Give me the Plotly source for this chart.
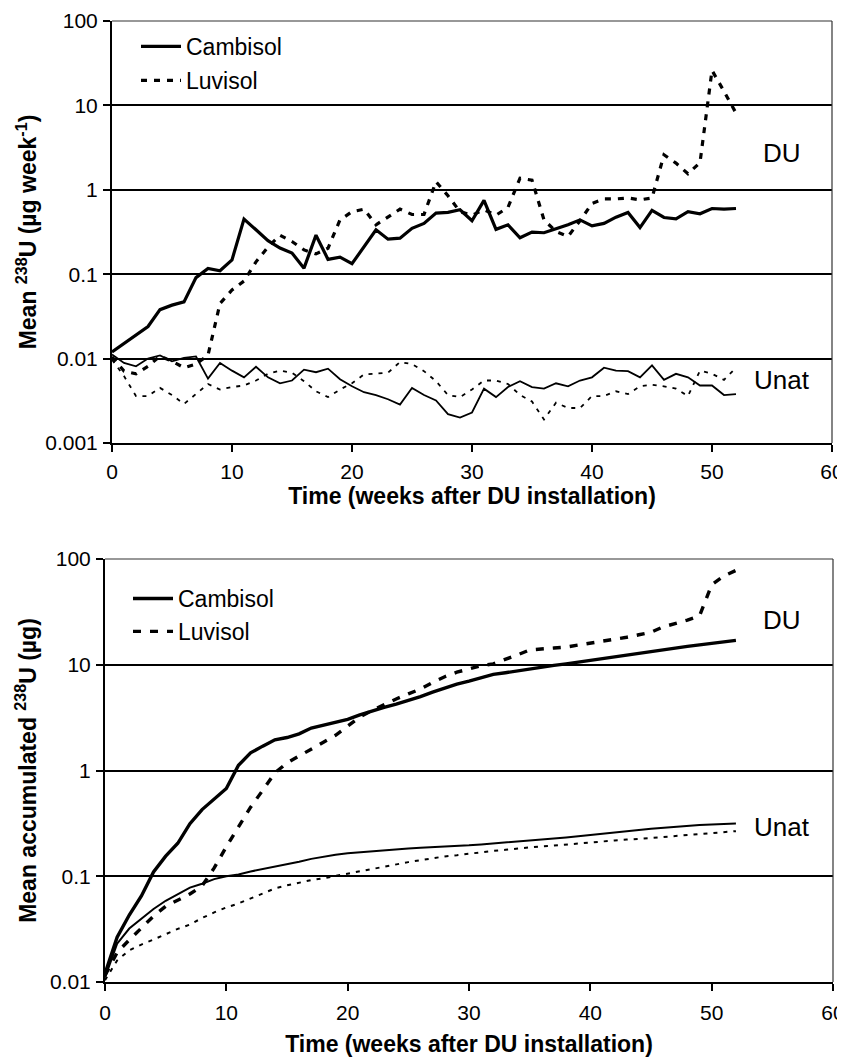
import plotly.graph_objects as go

weeks = list(range(53))

# Weekly mean 238U (ug/week)
cambisol_du_weekly = [0.012, 0.015, 0.019, 0.024, 0.038, 0.043, 0.047, 0.091, 0.117, 0.11, 0.148,
                      0.45, 0.336, 0.25, 0.204, 0.178, 0.118, 0.29, 0.15, 0.159, 0.133,
                      0.213, 0.336, 0.26, 0.267, 0.35, 0.40, 0.53, 0.54, 0.58, 0.43,
                      0.75, 0.34, 0.385, 0.27, 0.315, 0.31, 0.345, 0.385, 0.44, 0.374,
                      0.40, 0.474, 0.54, 0.357, 0.57, 0.47, 0.453, 0.55, 0.52, 0.60,
                      0.59, 0.60]
luvisol_du_weekly = [0.0105, 0.0071, 0.0066, 0.0081, 0.0107, 0.0093, 0.0078, 0.0086, 0.011, 0.045, 0.065,
                     0.083, 0.14, 0.21, 0.29, 0.244, 0.194, 0.174, 0.203, 0.44, 0.55,
                     0.59, 0.385, 0.48, 0.59, 0.51, 0.51, 1.25, 0.85, 0.55, 0.5,
                     0.58, 0.5, 0.62, 1.37, 1.3, 0.44, 0.32, 0.28, 0.43, 0.69,
                     0.78, 0.78, 0.8, 0.76, 0.8, 2.6, 2.07, 1.55, 2.1, 26.0,
                     14.7, 8.1]
cambisol_unat_weekly = [0.0112, 0.0089, 0.0081, 0.01, 0.0109, 0.0093, 0.0102, 0.0106, 0.0058, 0.0089, 0.0072,
                        0.006, 0.008, 0.006, 0.0051, 0.0055, 0.0074, 0.0069, 0.0076, 0.0057, 0.0047,
                        0.004, 0.0037, 0.0033, 0.00285, 0.0045, 0.0037, 0.0032, 0.0022, 0.002, 0.0023,
                        0.0044, 0.0035, 0.0046, 0.0054, 0.0046, 0.0044, 0.0051, 0.0047, 0.0055, 0.006,
                        0.0078, 0.0072, 0.0071, 0.006, 0.0083, 0.0056, 0.0066, 0.006, 0.0048, 0.0048,
                        0.0037, 0.0038]
luvisol_unat_weekly = [0.0097, 0.0062, 0.0036, 0.0036, 0.0045, 0.0037, 0.0029, 0.0038, 0.005, 0.0043, 0.0046,
                       0.0048, 0.0055, 0.0066, 0.0072, 0.0068, 0.0054, 0.0041, 0.0035, 0.0043, 0.0051,
                       0.0065, 0.0066, 0.0068, 0.0091, 0.0086, 0.0071, 0.0054, 0.0037, 0.0035, 0.0043,
                       0.0055, 0.0055, 0.005, 0.0037, 0.0031, 0.0019, 0.003, 0.0026, 0.0026, 0.0036,
                       0.0036, 0.0041, 0.0038, 0.0047, 0.0049, 0.0047, 0.0044, 0.0036, 0.0072, 0.0066,
                       0.0056, 0.0078]

# Mean accumulated 238U (ug)
cambisol_du_cum = [0.012, 0.0265, 0.043, 0.065, 0.11, 0.155, 0.205, 0.314, 0.427, 0.54, 0.675,
                   1.12, 1.47, 1.70, 1.95, 2.05, 2.22, 2.52, 2.69, 2.86, 3.05,
                   3.35, 3.67, 3.95, 4.25, 4.6, 5.0, 5.5, 6.0, 6.55, 7.0,
                   7.6, 8.1, 8.4, 8.77, 9.1, 9.5, 9.85, 10.2, 10.6, 11.0,
                   11.5, 12.0, 12.4, 12.9, 13.4, 13.9, 14.4, 14.9, 15.4, 16.0,
                   16.4, 17.0]
luvisol_du_cum = [0.0115, 0.019, 0.025, 0.032, 0.042, 0.052, 0.06, 0.068, 0.081, 0.12, 0.19,
                  0.29, 0.45, 0.65, 0.95, 1.18, 1.38, 1.58, 1.85, 2.15, 2.65,
                  3.2, 3.7, 4.2, 4.75, 5.3, 5.9, 6.8, 7.7, 8.5, 9.1,
                  9.8, 10.2, 11.2, 12.4, 13.8, 14.2, 14.4, 14.7, 15.3, 16.0,
                  16.7, 17.3, 18.2, 19.2, 20.3, 22.8, 24.3, 26.4, 29.0, 57.0,
                  69.0, 78.0]
cambisol_unat_cum = [0.011, 0.023, 0.032, 0.04, 0.049, 0.0586, 0.068, 0.078, 0.085, 0.094, 0.1,
                     0.104, 0.111, 0.117, 0.122, 0.128, 0.137, 0.146, 0.154, 0.160, 0.165,
                     0.169, 0.173, 0.175, 0.179, 0.183, 0.186, 0.188, 0.191, 0.193, 0.196,
                     0.2, 0.204, 0.209, 0.214, 0.219, 0.224, 0.228, 0.233, 0.239, 0.245,
                     0.252, 0.26, 0.267, 0.274, 0.282, 0.288, 0.295, 0.3, 0.305, 0.309,
                     0.312, 0.315]
luvisol_unat_cum = [0.0104, 0.016, 0.0199, 0.0226, 0.0252, 0.0285, 0.0318, 0.0349, 0.0403, 0.0455, 0.0507,
                    0.0553, 0.062, 0.069, 0.0766, 0.082, 0.0875, 0.092, 0.0957, 0.1007, 0.106,
                    0.111, 0.117, 0.124, 0.129, 0.136, 0.142, 0.148, 0.154, 0.158, 0.164,
                    0.169, 0.174, 0.178, 0.183, 0.188, 0.192, 0.195, 0.2, 0.204, 0.209,
                    0.214, 0.218, 0.222, 0.225, 0.23, 0.235, 0.24, 0.245, 0.25, 0.256,
                    0.26, 0.267]

x_ticks = [0, 10, 20, 30, 40, 50, 60]
y_ticks_top = [0.001, 0.01, 0.1, 1, 10, 100]
y_ticks_top_text = ["0.001", "0.01", "0.1", "1", "10", "100"]
y_ticks_bot = [0.01, 0.1, 1, 10, 100]
y_ticks_bot_text = ["0.01", "0.1", "1", "10", "100"]

FONT = "Liberation Sans, Arial, sans-serif"
W, H = 845, 1059
OFF = 8  # the page body adds an 8px margin; place things relative to the visible window


def px_x(p):
    return (p - OFF) / W


def px_y(p):
    return 1 - (p - OFF) / H


fig = go.Figure()

# Top panel
fig.add_trace(go.Scatter(x=weeks, y=cambisol_du_weekly, mode="lines", name="Cambisol",
                         line=dict(color="black", width=3.2), xaxis="x", yaxis="y",
                         legend="legend", legendgroup="c1"))
fig.add_trace(go.Scatter(x=weeks, y=luvisol_du_weekly, mode="lines", name="Luvisol",
                         line=dict(color="black", width=3.2, dash="6px,7px"), xaxis="x", yaxis="y",
                         legend="legend", legendgroup="l1"))
fig.add_trace(go.Scatter(x=weeks, y=cambisol_unat_weekly, mode="lines", showlegend=False,
                         line=dict(color="black", width=1.8), xaxis="x", yaxis="y"))
fig.add_trace(go.Scatter(x=weeks, y=luvisol_unat_weekly, mode="lines", showlegend=False,
                         line=dict(color="black", width=1.8, dash="4px,6px"), xaxis="x", yaxis="y"))

# Bottom panel
fig.add_trace(go.Scatter(x=weeks, y=cambisol_du_cum, mode="lines", name="Cambisol",
                         line=dict(color="black", width=3.4), xaxis="x2", yaxis="y2",
                         legend="legend2", legendgroup="c2"))
fig.add_trace(go.Scatter(x=weeks, y=luvisol_du_cum, mode="lines", name="Luvisol",
                         line=dict(color="black", width=3.4, dash="8px,9px"), xaxis="x2", yaxis="y2",
                         legend="legend2", legendgroup="l2"))
fig.add_trace(go.Scatter(x=weeks, y=cambisol_unat_cum, mode="lines", showlegend=False,
                         line=dict(color="black", width=2), xaxis="x2", yaxis="y2"))
fig.add_trace(go.Scatter(x=weeks, y=luvisol_unat_cum, mode="lines", showlegend=False,
                         line=dict(color="black", width=2, dash="4px,6px"), xaxis="x2", yaxis="y2"))

axis_common = dict(showline=True, linecolor="black", linewidth=2, ticks="outside", ticklen=7,
                   tickwidth=2, tickcolor="black", zeroline=False, automargin=False,
                   tickfont=dict(family=FONT, size=21, color="black"))

fig.update_layout(
    width=W, height=H,
    margin=dict(l=0, r=0, t=0, b=0, autoexpand=False),
    paper_bgcolor="white", plot_bgcolor="white",
    font=dict(family=FONT, color="black"),
    xaxis=dict(domain=[px_x(112), px_x(832)], anchor="y", range=[0, 60], tickvals=x_ticks,
               showgrid=False, ticklabelstandoff=2,
               title=dict(text="<b>Time (weeks after DU installation)</b>",
                          font=dict(family=FONT, size=23, color="black"), standoff=0),
               **axis_common),
    yaxis=dict(domain=[px_y(443), px_y(21)], anchor="x", type="log", range=[-3, 2],
               tickvals=y_ticks_top, ticktext=y_ticks_top_text, showgrid=True,
               gridcolor="black", gridwidth=1.6, ticklabelstandoff=1,
               title=dict(text="<b>Mean <sup>238</sup>U (µg week<sup>-1</sup>)</b>",
                          font=dict(family=FONT, size=23, color="black"), standoff=2),
               **axis_common),
    xaxis2=dict(domain=[px_x(105), px_x(833)], anchor="y2", range=[0, 60], tickvals=x_ticks,
                showgrid=False, ticklabelstandoff=4,
                title=dict(text="<b>Time (weeks after DU installation)</b>",
                           font=dict(family=FONT, size=23, color="black"), standoff=13),
                **axis_common),
    yaxis2=dict(domain=[px_y(982), px_y(559)], anchor="x2", type="log", range=[-2, 2],
                tickvals=y_ticks_bot, ticktext=y_ticks_bot_text, showgrid=True,
                gridcolor="black", gridwidth=1.6, ticklabelstandoff=1,
                title=dict(text="<b>Mean accumulated <sup>238</sup>U (µg)</b>",
                           font=dict(family=FONT, size=23, color="black"), standoff=7),
                **axis_common),
    legend=dict(x=px_x(136), y=px_y(25), xanchor="left", yanchor="top",
                bgcolor="rgba(0,0,0,0)", font=dict(family=FONT, size=23, color="black"),
                traceorder="grouped", tracegroupgap=1, itemwidth=40),
    legend2=dict(x=px_x(128), y=px_y(577), xanchor="left", yanchor="top",
                 bgcolor="rgba(0,0,0,0)", font=dict(family=FONT, size=23, color="black"),
                 traceorder="grouped", tracegroupgap=0, itemwidth=40),
    showlegend=True,
)

# Thin top/right frame lines of each plot area
for xr, yr in (("x domain", "y domain"), ("x2 domain", "y2 domain")):
    fig.add_shape(type="line", xref=xr, yref=yr, x0=0, x1=1, y0=1, y1=1,
                  line=dict(color="#333333", width=1.2))
    fig.add_shape(type="line", xref=xr, yref=yr, x0=1, x1=1, y0=0, y1=1,
                  line=dict(color="#333333", width=1.2))

label_font = dict(family=FONT, size=26, color="black")
fig.add_annotation(x=55.8, y=0.436, xref="x", yref="y", text="DU", showarrow=False, font=label_font)
fig.add_annotation(x=55.8, y=-2.254, xref="x", yref="y", text="Unat", showarrow=False, font=label_font)
fig.add_annotation(x=55.8, y=1.423, xref="x2", yref="y2", text="DU", showarrow=False, font=label_font)
fig.add_annotation(x=55.8, y=-0.536, xref="x2", yref="y2", text="Unat", showarrow=False, font=label_font)

fig.write_html("out.html")
